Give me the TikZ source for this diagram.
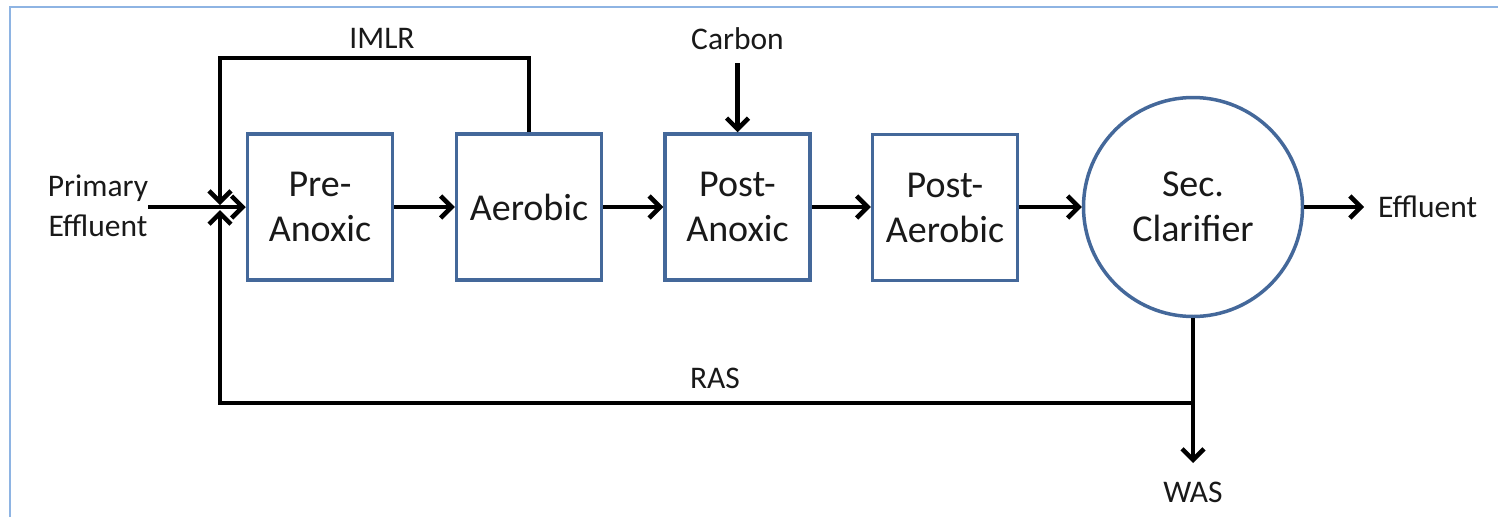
\documentclass[tikz,border=0pt]{standalone}
\usepackage{fontspec}
\setmainfont{Carlito}
\usetikzlibrary{arrows.meta}
\definecolor{boxblue}{RGB}{68,104,154}
\definecolor{framebl}{RGB}{142,180,227}
\definecolor{txt}{RGB}{25,25,25}
\tikzset{
  proc/.style={draw=boxblue, line width=3.5pt, minimum width=145pt, minimum height=146pt, inner sep=0pt, align=center, text=txt, font=\fontsize{38}{45}\selectfont},
  clar/.style={draw=boxblue, line width=3.5pt, circle, minimum size=219pt, inner sep=0pt, align=center, text=txt, font=\fontsize{38}{45}\selectfont},
  lbl/.style={inner sep=0pt, align=center, text=txt, font=\fontsize{31.5}{40}\selectfont},
  pipe/.style={line width=4.5pt, black},
  flow/.style={pipe, -{Straight Barb[length=11pt, width=22pt, line width=4.5pt]}},
}
\begin{document}
\begin{tikzpicture}[x=1pt, y=-1pt]
\useasboundingbox (0,0) rectangle (1498,517);
\draw[framebl, line width=2pt] (10,517) -- (10,7) -- (1498,7);

\node[proc] (pre)  at (320,207) {Pre-\\Anoxic};
\node[proc] (aer)  at (529,207) {Aerobic};
\node[proc] (pan)  at (737.5,207) {Post-\\Anoxic};
\node[proc] (paer) at (945,207.5) {Post-\\Aerobic};
\node[clar] (sec)  at (1193,207) {Sec.\\Clarifier};

\node[lbl] (prim)   at (98,206) {Primary\\Effluent};
\node[lbl] (imlr)   at (382,38) {IMLR};
\node[lbl] (carbon) at (737.5,39) {Carbon};
\node[lbl] (ras)    at (715,378) {RAS};
\node[lbl] (was)    at (1193,492) {WAS};
\node[lbl, anchor=west] (eff) at (1378,207) {Effluent};

\coordinate (pstart) at (148,207);
\coordinate (jtop) at (220,205);
\coordinate (jbot) at (220,210);
\coordinate (imlrc) at (529,58);
\coordinate (carbtop) at (737.5,63);
\coordinate (wasj) at (1193,403);
\coordinate (wasend) at (1193,463);
\coordinate (effend) at (1364,207);

\draw[flow] (pstart) -- (pre.west);
\draw[flow] (pre) -- (aer);
\draw[flow] (aer) -- (pan);
\draw[flow] (pan) -- (paer.west |- pan.east);
\draw[flow] (paer.east |- sec.west) -- (sec.west);
\draw[flow] (sec.east) -- (effend);
\draw[flow] (carbtop) -- (pan.north);
\draw[flow] (aer.north) -- (imlrc) -| (jtop);
\draw[flow] (sec.south) -- (wasj) -| (jbot);
\draw[flow] (wasj) -- (wasend);
\end{tikzpicture}
\end{document}
